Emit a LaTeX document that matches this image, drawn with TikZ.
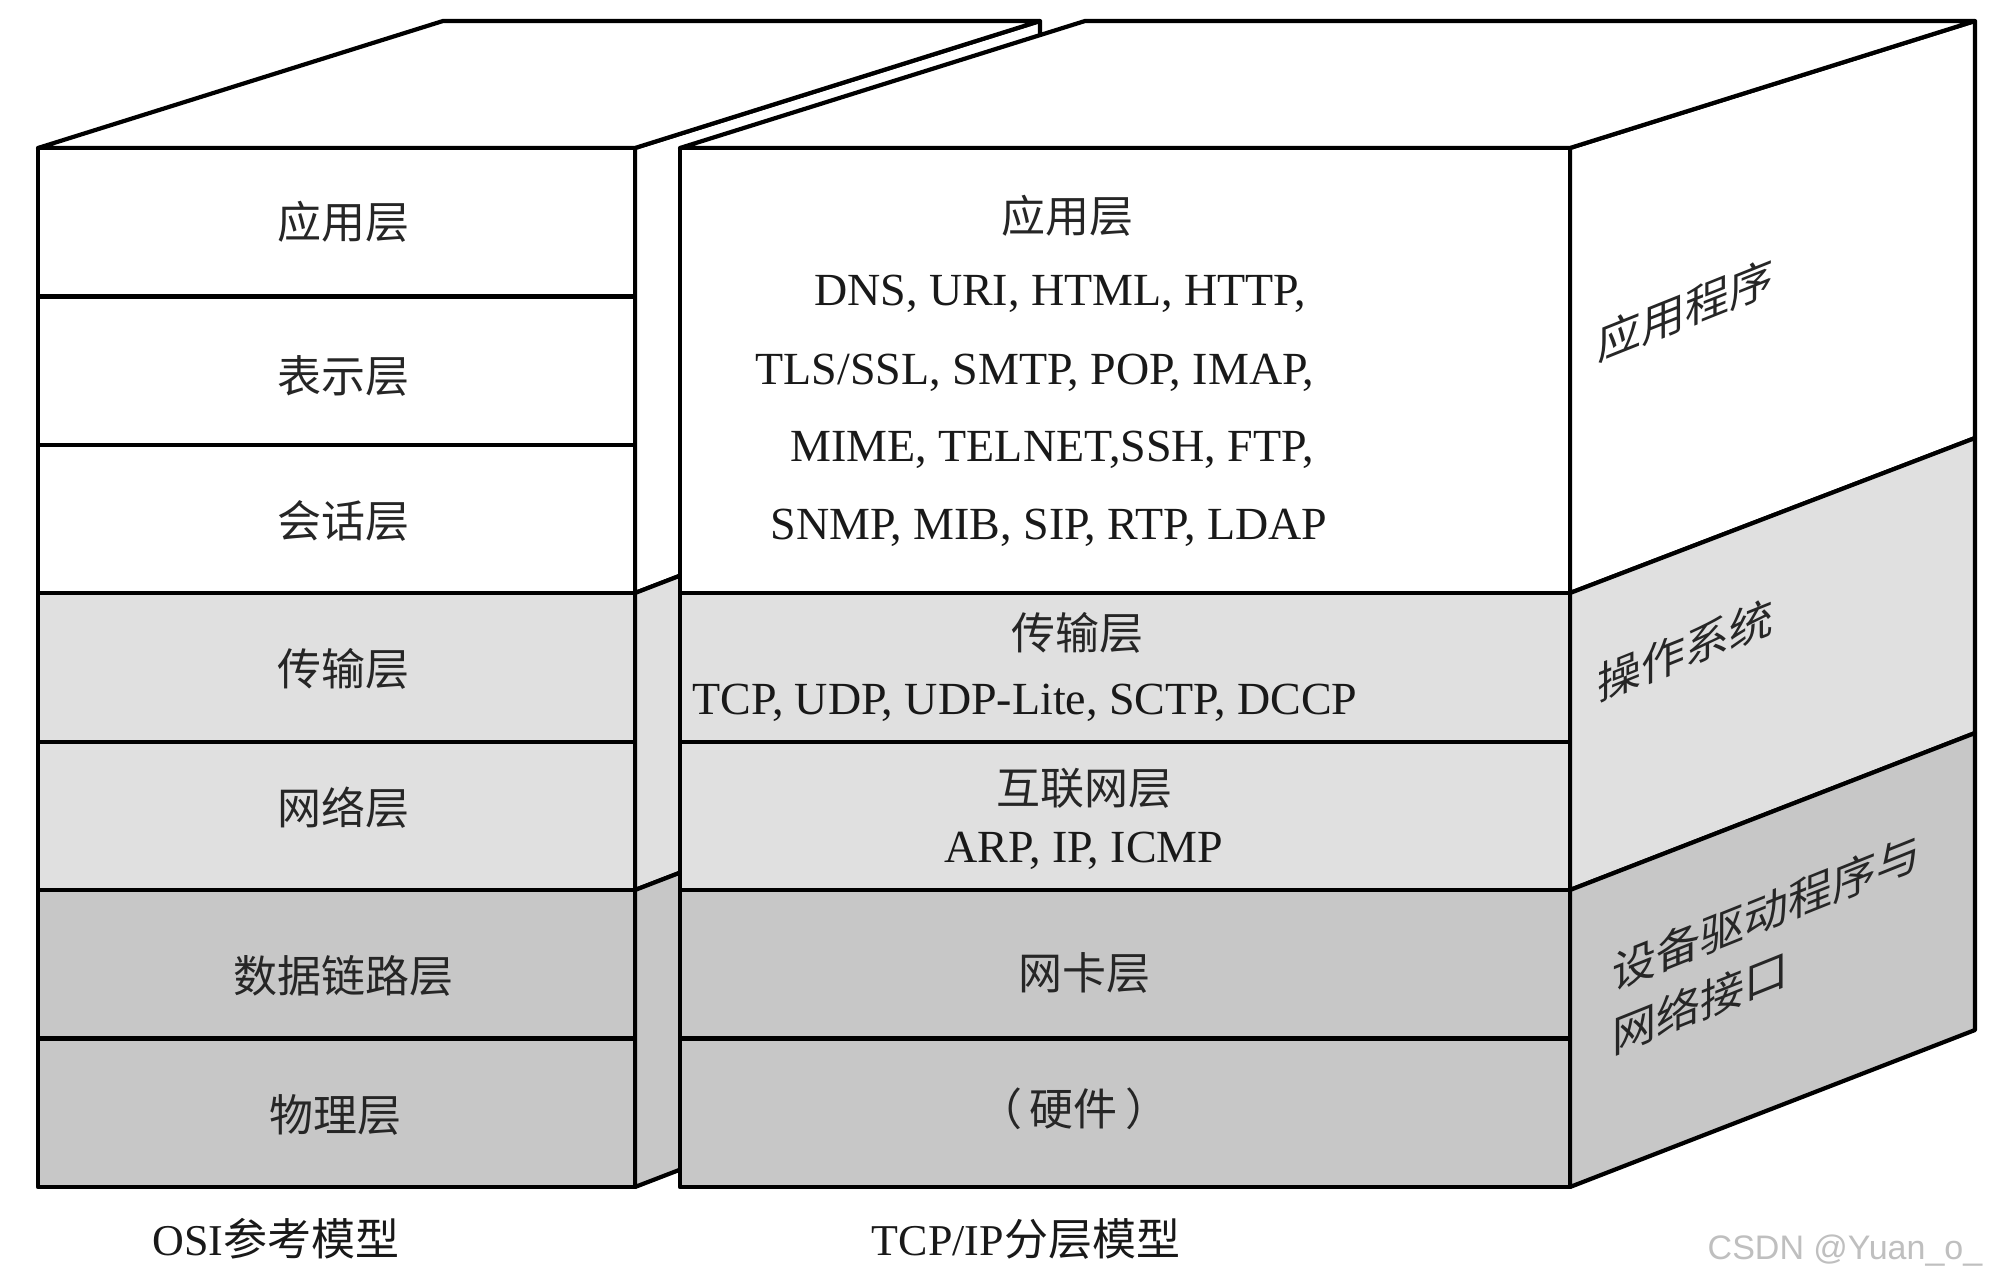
\documentclass[tikz,border=0pt]{standalone}
\usepackage{fontspec}
\setmainfont{Liberation Serif}
\newfontfamily\cjk{Noto Sans CJK SC}
\newfontfamily\wmfont{Liberation Sans}
\definecolor{lg}{gray}{0.88}
\definecolor{dg}{gray}{0.78}
\begin{document}
\begin{tikzpicture}[x=1pt,y=-1pt, line width=4.2pt, line join=round,
  cn/.style={font=\cjk\fontsize{44}{50}\selectfont, text=black!85, inner sep=0pt},
  en/.style={font=\fontsize{46}{52}\selectfont, text=black!90, inner sep=0pt},
  sidelabel/.style={cn, font=\cjk\fontsize{44}{64}\selectfont, yslant=0.4, align=left},
  osilayer/.style={draw=black, rectangle, minimum width=597pt, minimum height=148.43pt, inner sep=0pt},
  tcplayer/.style={draw=black, rectangle, minimum width=890pt, inner sep=0pt},
]
\useasboundingbox (0,0) rectangle (1992,1284);
\fill[white] (0,0) rectangle (1992,1284);

% OSI side face (mostly hidden)
\filldraw[fill=white] (635,148) -- (1040,21) -- (1040,437) -- (635,593) -- cycle;
\filldraw[fill=lg] (635,593) -- (1040,437) -- (1040,734) -- (635,890) -- cycle;
\filldraw[fill=dg] (635,890) -- (1040,734) -- (1040,1031) -- (635,1187) -- cycle;
% OSI top face
\filldraw[fill=white] (38,148) -- (443,21) -- (1040,21) -- (635,148) -- cycle;

% OSI front layers
\foreach \i/\c in {0/white, 1/white, 2/white, 3/lg, 4/lg, 5/dg, 6/dg}{
  \node[osilayer, fill=\c] (osi\i) at (336.5, {148+148.43*(\i+0.5)}) {};
}
\node[cn] (osiA) at (343,222) {应用层};
\node[cn] (osiP) at (343,376) {表示层};
\node[cn] (osiS) at (343,521) {会话层};
\node[cn] (osiT) at (343,669) {传输层};
\node[cn] (osiN) at (343,808) {网络层};
\node[cn] (osiD) at (343,976) {数据链路层};
\node[cn] (osiPh) at (335,1115) {物理层};

% TCP side face
\filldraw[fill=white] (1570,148) -- (1975,21) -- (1975,438) -- (1570,593) -- cycle;
\filldraw[fill=lg] (1570,593) -- (1975,438) -- (1975,733) -- (1570,890) -- cycle;
\filldraw[fill=dg] (1570,890) -- (1975,733) -- (1975,1030) -- (1570,1187) -- cycle;
% TCP top face
\filldraw[fill=white] (680,148) -- (1085,21) -- (1975,21) -- (1570,148) -- cycle;

% TCP front layers
\node[tcplayer, fill=white, minimum height=445.3pt] (tapp) at (1125, 370.65) {};
\node[tcplayer, fill=lg, minimum height=148.43pt] (ttrans) at (1125, 667.5) {};
\node[tcplayer, fill=lg, minimum height=148.43pt] (tnet) at (1125, 815.9) {};
\node[tcplayer, fill=dg, minimum height=148.43pt] (tnic) at (1125, 964.4) {};
\node[tcplayer, fill=dg, minimum height=148.43pt] (thw) at (1125, 1112.8) {};

% TCP texts
\node[cn] (appname) at (1067,216) {应用层};
\node[en] (app1) at (1060,294) {DNS, URI, HTML, HTTP,};
\node[en] (app2) at (1035,373) {TLS/SSL, SMTP, POP, IMAP,};
\node[en] (app3) at (1052,450) {MIME, TELNET,SSH, FTP,};
\node[en] (app4) at (1049,528) {SNMP, MIB, SIP, RTP, LDAP};
\node[cn] (transname) at (1077,633) {传输层};
\node[en] (trans1) at (1025,703) {TCP, UDP, UDP-Lite, SCTP, DCCP};
\node[cn] (netname) at (1084,788) {互联网层};
\node[en] (net1) at (1084,851) {ARP, IP, ICMP};
\node[cn] (nicname) at (1084,973) {网卡层};
\node[cn] (hwname) at (1074,1109) {（\hspace{8pt}硬件\hspace{8pt}）};

% side labels (sheared text)
\node[sidelabel] (sapp) at (1685,310) {应用程序};
\node[sidelabel] (sos) at (1685,650) {操作系统};
\node[sidelabel] (sdrv) at (1766,944) {设备驱动程序与\\网络接口};

% captions
\node[en, font=\fontsize{44}{50}\selectfont] (osicap) at (276,1239) {OSI{\cjk 参考模型}};
\node[en, font=\fontsize{44}{50}\selectfont] (tcpcap) at (1026,1239) {TCP/IP{\cjk 分层模型}};
\node[inner sep=0pt, font=\wmfont\fontsize{34}{40}\selectfont, text=gray!50] (wm) at (1845,1251) {CSDN @Yuan\_o\_};
\end{tikzpicture}
\end{document}
